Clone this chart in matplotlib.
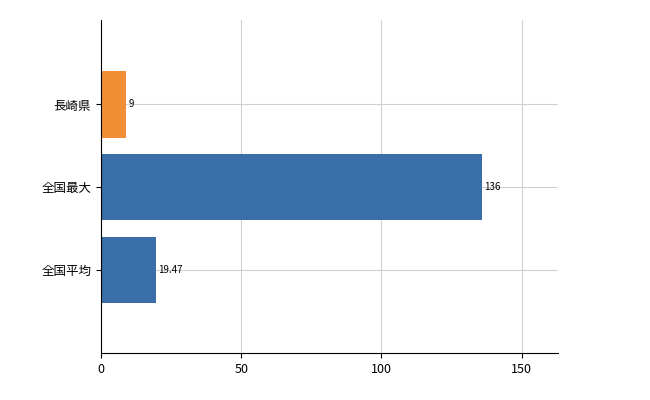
import matplotlib.pyplot as plt

plt.rcParams['font.family'] = ['Noto Sans CJK JP', 'DejaVu Sans']

categories = ['長崎県', '全国最大', '全国平均']
values = [9, 136, 19.47]
labels = ['9', '136', '19.47']
colors = ['#F28E35', '#3A6EA8', '#3A6EA8']

fig = plt.figure(figsize=(6.5, 4), dpi=100)
ax = fig.add_axes([101 / 650, 47 / 400, 457 / 650, 333 / 400])

pos = list(range(len(categories)))
ax.barh(pos, values, height=0.8, color=colors, zorder=2)
for p, v, t in zip(pos, values, labels):
    ax.text(v + 0.8, p, t, va='center', ha='left', fontsize=7)

ax.set_yticks(pos)
ax.set_yticklabels(categories, fontsize=9)
ax.set_ylim(3.0, -1.02)
ax.set_xlim(0, 163)
ax.set_xticks([0, 50, 100, 150])
ax.tick_params(axis='x', labelsize=9)
ax.grid(True, color='#d0d0d0', linewidth=0.8, zorder=0)
ax.set_axisbelow(True)
for s in ['top', 'right']:
    ax.spines[s].set_visible(False)

fig.savefig('out.png')
